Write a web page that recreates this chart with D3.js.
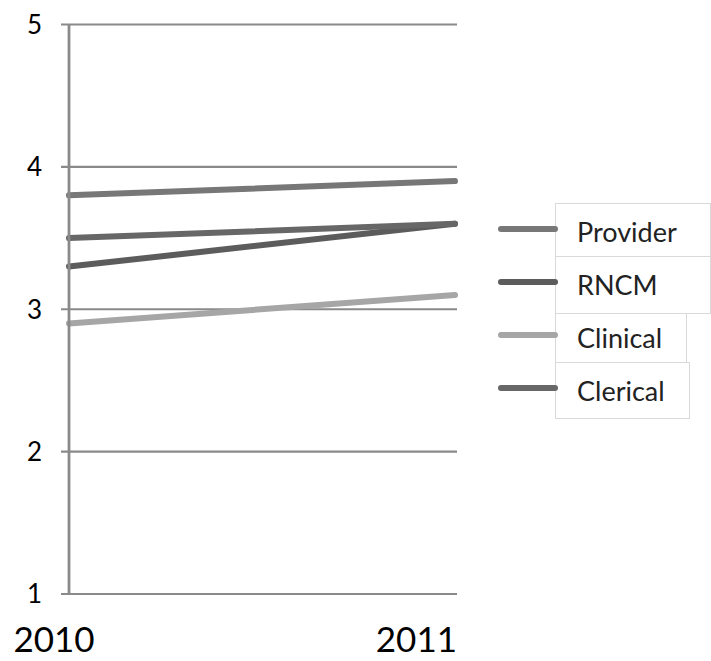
<!DOCTYPE html>
<html>
<head>
<meta charset="utf-8">
<script src="https://cdn.jsdelivr.net/npm/d3@7"></script>
<style>
  html, body { margin: 0; padding: 0; background: #fff; }
  svg { display: block; font-family: "Lato", "Open Sans", sans-serif; }
</style>
</head>
<body>
<svg id="chart" width="711" height="661"></svg>
<script>
// Survey years and mean scores for each staff group
const years = ["2010", "2011"];
const seriesNames = ["Provider", "RNCM", "Clinical", "Clerical"];
const providerValues = [3.8, 3.9];
const rncmValues = [3.3, 3.6];
const clinicalValues = [2.9, 3.1];
const clericalValues = [3.5, 3.6];
const seriesColors = ["#777777", "#5c5c5c", "#a6a6a6", "#676767"];
const yTicks = [1, 2, 3, 4, 5];

const series = [
  { name: seriesNames[0], values: providerValues, color: seriesColors[0] },
  { name: seriesNames[1], values: rncmValues, color: seriesColors[1] },
  { name: seriesNames[2], values: clinicalValues, color: seriesColors[2] },
  { name: seriesNames[3], values: clericalValues, color: seriesColors[3] }
];

const svg = d3.select("#chart");

const x = d3.scalePoint().domain(years).range([69, 455]);
const y = d3.scaleLinear().domain([1, 5]).range([594, 24.5]);

// Horizontal gridlines, extended slightly left of the axis as tick marks
const grid = svg.append("g");
grid.selectAll("line")
  .data(yTicks)
  .join("line")
  .attr("x1", 61)
  .attr("x2", 457)
  .attr("y1", d => y(d))
  .attr("y2", d => y(d))
  .attr("stroke", "#8a8a8a")
  .attr("stroke-width", 2.2);

// Y tick labels
svg.append("g")
  .selectAll("text")
  .data(yTicks)
  .join("text")
  .attr("x", 42)
  .attr("y", d => y(d))
  .attr("dy", "0.36em")
  .attr("text-anchor", "end")
  .attr("font-size", 26)
  .attr("fill", "#000")
  .text(d => d);

// Series lines
const line = d3.line()
  .x((d, i) => x(years[i]))
  .y(d => y(d));

svg.append("g")
  .selectAll("path")
  .data(series)
  .join("path")
  .attr("d", d => line(d.values))
  .attr("fill", "none")
  .attr("stroke", d => d.color)
  .attr("stroke-width", 6)
  .attr("stroke-linecap", "round");

// Vertical value axis
svg.append("line")
  .attr("x1", x(years[0]))
  .attr("x2", x(years[0]))
  .attr("y1", y(5))
  .attr("y2", y(1))
  .attr("stroke", "#8a8a8a")
  .attr("stroke-width", 2.8);

// Year labels
svg.append("g")
  .selectAll("text")
  .data(years)
  .join("text")
  .attr("x", (d, i) => i === 0 ? x(d) - 15 : x(d) + 2)
  .attr("y", 652)
  .attr("text-anchor", (d, i) => i === 0 ? "middle" : "end")
  .attr("font-size", 35)
  .attr("fill", "#000")
  .text(d => d);

// Legend
const legendTop = 203;
const legendRows = [
  { top: 203, bottom: 256, right: 711 },
  { top: 256, bottom: 313, right: 711 },
  { top: 313, bottom: 362, right: 687 },
  { top: 362, bottom: 418, right: 690 }
];
const legend = svg.append("g");
const rows = legend.selectAll("g")
  .data(series)
  .join("g");

rows.append("rect")
  .attr("x", 555.5)
  .attr("y", (d, i) => legendRows[i].top + 0.5)
  .attr("width", (d, i) => legendRows[i].right - 556)
  .attr("height", (d, i) => legendRows[i].bottom - legendRows[i].top)
  .attr("fill", "#fff")
  .attr("stroke", "#d9d9d9")
  .attr("stroke-width", 1);

rows.append("line")
  .attr("x1", 501)
  .attr("x2", 555)
  .attr("y1", (d, i) => legendTop + 26 + i * 53)
  .attr("y2", (d, i) => legendTop + 26 + i * 53)
  .attr("stroke", d => d.color)
  .attr("stroke-width", 6)
  .attr("stroke-linecap", "round");

rows.append("text")
  .attr("x", 577)
  .attr("y", (d, i) => legendTop + 26 + i * 53 + 13)
  .attr("font-size", 27)
  .attr("fill", "#222")
  .text(d => d.name);
</script>
</body>
</html>
